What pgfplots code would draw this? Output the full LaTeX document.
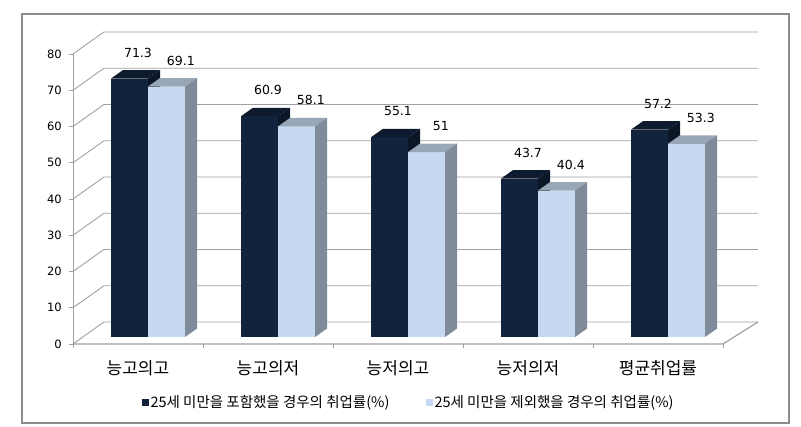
\documentclass[border=0pt]{standalone}
\usepackage{fontspec}
\setmainfont{DejaVu Sans}
\newfontfamily\cjk{Noto Sans CJK KR}
\usepackage{pgfplots}
\pgfplotsset{compat=1.18}
\definecolor{dfront}{HTML}{12233D}
\definecolor{dtop}{HTML}{0E1A2E}
\definecolor{dside}{HTML}{0B1627}
\definecolor{lfront}{HTML}{C6D9F1}
\definecolor{ltop}{HTML}{98A6B8}
\definecolor{lside}{HTML}{7F8B98}
\definecolor{gridc}{HTML}{A0A0A0}
\definecolor{framec}{HTML}{8C8C8C}
% #1 left x, #2 value, #3 front, #4 top, #5 side
\newcommand{\tdbar}[5]{%
  \pgfmathsetmacro\xa{#1}%
  \pgfmathsetmacro\xb{#1+0.285}%
  \pgfmathsetmacro\xc{#1+0.285+0.0923}%
  \pgfmathsetmacro\xd{#1+0.0923}%
  \pgfmathsetmacro\ya{1.93}%
  \pgfmathsetmacro\yb{#2+1.93}%
  \pgfmathsetmacro\yc{#2+1.93+2.34}%
  \pgfmathsetmacro\yd{1.93+2.34}%
  \addplot[fill=#3, draw=none, forget plot] coordinates {(\xa,\ya) (\xb,\ya) (\xb,\yb) (\xa,\yb)} --cycle;
  \addplot[fill=#4, draw=none, forget plot] coordinates {(\xa,\yb) (\xb,\yb) (\xc,\yc) (\xd,\yc)} --cycle;
  \addplot[fill=#5, draw=none, forget plot] coordinates {(\xb,\ya) (\xc,\yd) (\xc,\yc) (\xb,\yb)} --cycle;
}
\begin{document}
\begin{tikzpicture}
\begin{axis}[
  scale only axis, width=801pt, height=426pt,
  xmin=-1.0615, xmax=5.1, ymin=-22.621, ymax=94.897,
  clip=false,
  axis line style={draw=none},
  tick style={draw=none},
  ytick={0,10,...,80},
  xtick={0,1,2,3,4},
  xticklabels={능고의고,능고의저,능저의고,능저의저,평균취업률},
  /pgf/number format/assume math mode=true,
  yticklabel style={anchor=east, inner sep=0pt, xshift=62pt, font=\fontsize{11.5}{13}\selectfont},
  xticklabel style={anchor=center, inner sep=0pt, yshift=58pt, font=\cjk\fontsize{17}{20}\selectfont},
  legend columns=2,
  legend style={draw=none, fill=none, at={(rel axis cs:0.51,0.0552)}, anchor=center,
    font=\cjk\fontsize{14.5}{16}\selectfont,
    /tikz/every even column/.append style={column sep=34pt}},
  legend image code/.code={\fill[#1] (0pt,-3.5pt) rectangle (7pt,3.5pt);},
]
\path (rel axis cs:0,0) rectangle (rel axis cs:1,1);
\addlegendimage{fill=dfront, draw=none}
\addlegendimage{fill=lfront, draw=none}
% frame
\draw[framec, line width=2pt] (rel axis cs:0.02747,0.00704) rectangle (rel axis cs:0.98502,0.96714);
% walls
\pgfplotsinvokeforeach{0,10,20,30,40,50,60,70,80}{
  \draw[gridc, line width=0.9pt] (axis cs:-0.5,#1) -- (axis cs:-0.262,#1+6.07) -- (axis cs:4.769,#1+6.07);
  \draw[gridc, line width=0.9pt] (axis cs:-0.531,#1) -- (axis cs:-0.5,#1);
}
\draw[gridc, line width=0.9pt] (axis cs:-0.5,0) -- (axis cs:-0.5,80);
\draw[gridc, line width=1.2pt] (axis cs:-0.5,0) -- (axis cs:4.5,0) -- (axis cs:4.769,6.07);
\pgfplotsinvokeforeach{-0.5,0.5,1.5,2.5,3.5,4.5}{
  \draw[gridc, line width=0.9pt] (axis cs:#1,0) -- (axis cs:#1,-1);
}
% bars
\tdbar{-0.208}{71.3}{dfront}{dtop}{dside}
\tdbar{0.077}{69.1}{lfront}{ltop}{lside}
\tdbar{0.792}{60.9}{dfront}{dtop}{dside}
\tdbar{1.077}{58.1}{lfront}{ltop}{lside}
\tdbar{1.792}{55.1}{dfront}{dtop}{dside}
\tdbar{2.077}{51}{lfront}{ltop}{lside}
\tdbar{2.792}{43.7}{dfront}{dtop}{dside}
\tdbar{3.077}{40.4}{lfront}{ltop}{lside}
\tdbar{3.792}{57.2}{dfront}{dtop}{dside}
\tdbar{4.077}{53.3}{lfront}{ltop}{lside}
% value labels
\addplot[draw=none, forget plot, nodes near coords,
  every node near coord/.append style={anchor=center, yshift=33pt, font=\fontsize{12.5}{14}\selectfont, text=black}]
  coordinates {(0,71.3) (1,60.9) (2,55.1) (3,43.7) (4,57.2)};
\addplot[draw=none, forget plot, nodes near coords,
  every node near coord/.append style={anchor=center, yshift=33pt, font=\fontsize{12.5}{14}\selectfont, text=black}]
  coordinates {(0.33,69.1) (1.33,58.1) (2.33,51) (3.33,40.4) (4.33,53.3)};
\legend{25세 미만을 포함했을 경우의 취업률(\%), 25세 미만을 제외했을 경우의 취업률(\%)}
\end{axis}
\end{tikzpicture}
\end{document}
